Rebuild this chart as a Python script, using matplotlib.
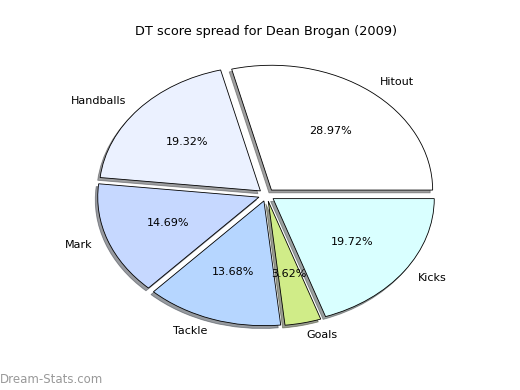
import matplotlib
matplotlib.use("Agg")
import matplotlib.pyplot as plt

labels = ["Hitout", "Handballs", "Mark", "Tackle", "Goals", "Kicks"]
values = [28.97, 19.32, 14.69, 13.68, 3.62, 19.72]
colors = ["#ffffff", "#ebf1ff", "#c6d8ff", "#b6d6ff", "#d0ec88", "#d9ffff"]
explode = [0.05] * len(values)
title = "DT score spread for Dean Brogan (2009)"
watermark = "Dream-Stats.com"

fig = plt.figure(figsize=(5.2, 3.9), dpi=100)
ax = fig.add_axes([0.125, 0.1, 0.775, 0.8])
wedges, texts, autotexts = ax.pie(values, labels=labels, colors=colors, explode=explode,
                                  autopct="%1.2f%%",
                                  shadow={"ox": -0.011, "oy": -0.016, "shade": 0.75},
                                  startangle=0,
                                  wedgeprops=dict(edgecolor="black", linewidth=0.6),
                                  textprops=dict(fontsize=8))
ax.set_aspect("auto")
ax.set_xlim(-1.25, 1.25)
ax.set_ylim(-1.25, 1.25)
ax.set_title(title, fontsize=9.25, pad=3)
fig.text(0.0, 0.01, watermark, fontsize=8.5, color="#999999", ha="left", va="bottom")
fig.savefig("out.png", dpi=100)
